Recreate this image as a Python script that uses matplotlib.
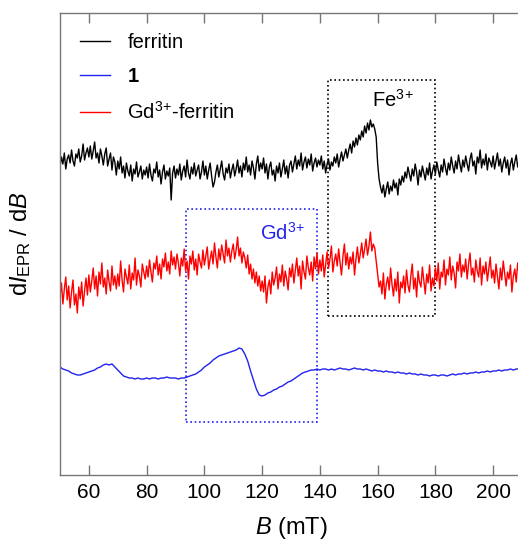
import numpy as np
import matplotlib
matplotlib.use("Agg")
import matplotlib.pyplot as plt
from matplotlib.patches import Rectangle

plt.rcParams['font.family'] = ['Liberation Sans', 'DejaVu Sans']
plt.rcParams['mathtext.fontset'] = 'custom'
plt.rcParams['mathtext.rm'] = 'Liberation Sans'
plt.rcParams['mathtext.it'] = 'Liberation Sans:italic'
plt.rcParams['mathtext.bf'] = 'Liberation Sans:bold'

# field axis (mT)
b_fine = np.arange(50, 210.01, 0.5)   # ferritin / Gd-ferritin sampling
b_coarse = np.arange(50, 210.01, 1.0)  # compound 1 sampling

# ferritin (arb. units, offset)
ferritin = [
    308, 318, 311, 322, 306, 316, 320, 312, 325, 314, 309, 321, 317, 326, 313, 319, 331, 315, 322, 327,
    318, 329, 316, 324, 333, 317, 322, 312, 326, 319, 310, 321, 327, 309, 316, 322, 305, 318, 313, 300,
    314, 306, 318, 302, 309, 297, 312, 304, 299, 310, 294, 306, 301, 313, 298, 303, 309, 296, 305, 300,
    308, 297, 311, 300, 294, 306, 302, 313, 298, 305, 291, 303, 310, 296, 304, 299, 307, 275, 302, 309,
    297, 306, 300, 311, 295, 304, 309, 298, 315, 302, 296, 308, 301, 312, 299, 305, 310, 296, 303, 314,
    300, 309, 296, 305, 312, 299, 288, 293, 303, 310, 298, 306, 314, 301, 295, 307, 302, 311, 297, 305,
    311, 299, 306, 315, 302, 309, 298, 312, 305, 318, 303, 310, 300, 314, 307, 296, 311, 319, 304, 312,
    306, 317, 302, 311, 296, 308, 313, 300, 305, 294, 309, 302, 312, 298, 306, 315, 301, 309, 297, 310,
    314, 303, 311, 319, 306, 315, 309, 322, 305, 313, 318, 307, 316, 310, 321, 304, 312, 317, 308, 315,
    310, 319, 306, 314, 302, 311, 316, 305, 313, 309, 318, 312, 321, 308, 316, 323, 314, 320, 326, 317,
    325, 331, 322, 334, 328, 337, 330, 340, 335, 344, 338, 349, 342, 352, 345, 355, 348, 351, 346, 338,
    312, 296, 288, 282, 290, 278, 286, 293, 281, 289, 284, 295, 287, 292, 280, 296, 290, 299, 293, 303,
    297, 308, 301, 294, 306, 299, 311, 303, 290, 305, 298, 309, 302, 295, 307, 300, 312, 296, 304, 310,
    301, 313, 305, 298, 310, 303, 316, 307, 300, 312, 305, 318, 309, 302, 314, 306, 320, 311, 303, 315,
    308, 319, 311, 304, 316, 322, 309, 314, 301, 318, 312, 325, 307, 316, 310, 321, 305, 317, 313, 308,
    319, 306, 314, 322, 309, 316, 303, 312, 318, 307, 315, 300, 311, 317, 305, 313, 320, 308, 314, 310,
    312,
]

# Gd3+-ferritin
gd_ferritin = [
    178, 192, 171, 186, 198, 175, 189, 167, 183, 195, 170, 181, 162, 188, 176, 193, 169, 184, 197, 180,
    200, 183, 194, 207, 186, 199, 179, 203, 191, 212, 188, 197, 181, 205, 193, 184, 209, 190, 199, 186,
    201, 189, 214, 195, 183, 206, 198, 191, 210, 186, 202, 195, 217, 190, 205, 199, 188, 211, 203, 196,
    209, 198, 215, 203, 193, 212, 206, 219, 200, 211, 196, 216, 208, 222, 204, 213, 201, 224, 210, 218,
    206, 221, 212, 199, 217, 209, 226, 204, 214, 196, 219, 211, 224, 205, 216, 200, 221, 213, 207, 225,
    210, 219, 228, 206, 216, 224, 211, 232, 218, 207, 226, 215, 230, 221, 212, 235, 219, 227, 213, 224,
    231, 216, 225, 238, 219, 227, 212, 223, 217, 207, 220, 201, 211, 196, 206, 192, 203, 189, 199, 184,
    194, 183, 199, 172, 188, 195, 181, 203, 190, 197, 208, 186, 201, 193, 210, 189, 204, 196, 185, 207,
    198, 211, 192, 205, 217, 199, 209, 186, 214, 203, 196, 219, 207, 200, 213, 194, 218, 206, 222, 201,
    215, 204, 220, 198, 211, 223, 207, 216, 229, 203, 214, 221, 209, 226, 212, 200, 219, 231, 210, 222,
    206, 218, 211, 223, 200, 216, 228, 212, 221, 232, 217, 226, 236, 220, 229, 243, 224, 231, 227, 214,
    200, 188, 194, 181, 202, 176, 191, 198, 185, 207, 190, 179, 196, 184, 203, 172, 193, 187, 199, 182,
    205, 190, 183, 199, 211, 186, 197, 178, 204, 193, 188, 208, 195, 181, 201, 192, 210, 184, 197, 189,
    207, 194, 212, 186, 203, 198, 215, 190, 206, 200, 218, 195, 209, 202, 187, 213, 204, 221, 198, 210,
    203, 216, 196, 211, 222, 200, 207, 193, 215, 204, 198, 217, 190, 209, 201, 213, 194, 206, 218, 197,
    205, 192, 211, 198, 186, 207, 195, 214, 201, 189, 203, 196, 210, 183, 199, 206, 193, 212, 200, 195,
    203,
]

# compound 1
compound1 = [
    108, 106, 105, 104, 102, 101, 100, 100, 101, 102,
    103, 104, 105, 107, 108, 110, 111, 110, 111, 108,
    105, 102, 99, 98, 97, 97, 96, 97, 96, 96,
    97, 96, 97, 97, 96, 97, 97, 98, 97, 97,
    97, 96, 97, 97, 98, 99, 100, 101, 103, 105,
    108, 110, 112, 115, 117, 119, 120, 121, 122, 123,
    124, 125, 127, 126, 121, 114, 104, 95, 86, 80,
    79, 80, 82, 83, 85, 86, 88, 89, 91, 93,
    94, 96, 98, 100, 102, 103, 104, 105, 105, 106,
    105, 106, 106, 105, 106, 105, 106, 107, 106, 106,
    105, 106, 107, 106, 106, 105, 106, 105, 104, 105,
    104, 104, 103, 104, 103, 103, 102, 103, 102, 102,
    101, 102, 101, 101, 100, 101, 100, 100, 99, 100,
    100, 99, 100, 100, 99, 100, 101, 100, 101, 101,
    102, 101, 102, 102, 103, 102, 103, 103, 104, 103,
    104, 104, 105, 104, 105, 105, 106, 105, 106, 106,
    107,
]

labels = ['ferritin', r'$\mathbf{1}$', r'Gd$^{3}$$^{+}$-ferritin']
colors = ['black', '#2222ee', '#ff0000']

# highlighted regions: (B start, B end, y low, y high)
fe_box = (142.8, 180.0, 159, 395)
gd_box = (93.5, 138.9, 53, 266)

fig = plt.figure(figsize=(5.18, 5.44), dpi=100)
ax = fig.add_axes([60 / 518, 69 / 544, 462 / 518, 462 / 544])

ax.plot(b_fine, ferritin, color=colors[0], lw=1.0, label=labels[0])
ax.plot(b_coarse, compound1, color=colors[1], lw=1.0, label=labels[1])
ax.plot(b_fine, gd_ferritin, color=colors[2], lw=1.0, label=labels[2])

for box, c in [(fe_box, 'black'), (gd_box, colors[1])]:
    ax.add_patch(Rectangle((box[0], box[2]), box[1] - box[0], box[3] - box[2],
                           fill=False, edgecolor=c, lw=1.2, linestyle=(0, (1, 1.6))))

ax.text(165.4, 375, r'Fe$^{3}$$^{+}$', fontsize=14.5, ha='center', va='center')
ax.text(127.2, 242, r'Gd$^{3}$$^{+}$', fontsize=14.5, ha='center', va='center', color=colors[1])

ax.set_xlim(50, 210)
ax.set_ylim(0, 462)
ax.set_xticks(range(60, 201, 20))
ax.set_yticks([])
ax.tick_params(axis='x', direction='in', top=True, length=7, width=1, color='#777777',
               labelsize=15, pad=6)
for s in ax.spines.values():
    s.set_color('#777777')
    s.set_linewidth(1)

ax.set_xlabel(r'$\it{B}$ (mT)', fontsize=17, labelpad=9)
ax.set_ylabel(r'd$\it{I}_{\rm EPR}$ / d$\it{B}$', fontsize=17)
ax.yaxis.set_label_coords(-0.058, 0.5)

leg = ax.legend(loc='upper left', frameon=False, fontsize=14.5, handlelength=1.5,
                handletextpad=0.85, labelspacing=0.75, borderaxespad=0.6)

fig.savefig('out.png', dpi=100)
